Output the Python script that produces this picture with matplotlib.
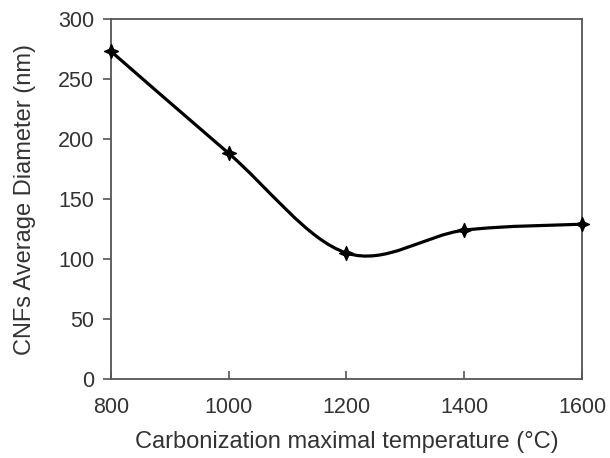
import matplotlib
matplotlib.use("Agg")
from matplotlib import pyplot as plt
from matplotlib.path import Path
from matplotlib.patches import PathPatch

temperature = [800, 1000, 1200, 1400, 1600]
diameter = [273, 188, 105, 124, 129]

x_ticks = [800, 1000, 1200, 1400, 1600]
y_ticks = [0, 50, 100, 150, 200, 250, 300]


def smooth_path(xs, ys):
    # Excel-like smoothed line: cubic Bezier segments with Catmull-Rom controls
    pts = list(zip(xs, ys))
    verts = [pts[0]]
    codes = [Path.MOVETO]
    n = len(pts)
    for i in range(n - 1):
        p0 = pts[i - 1] if i > 0 else pts[i]
        p1 = pts[i]
        p2 = pts[i + 1]
        p3 = pts[i + 2] if i + 2 < n else pts[i + 1]
        c1 = (p1[0] + (p2[0] - p0[0]) / 6, p1[1] + (p2[1] - p0[1]) / 6)
        c2 = (p2[0] - (p3[0] - p1[0]) / 6, p2[1] - (p3[1] - p1[1]) / 6)
        verts += [c1, c2, p2]
        codes += [Path.CURVE4] * 3
    return Path(verts, codes)


plt.rcParams['font.family'] = ['Liberation Sans', 'DejaVu Sans']

fig = plt.figure(figsize=(6.1, 4.58), dpi=100)
ax = fig.add_axes([0.182, 0.1725, 0.772, 0.786])

ax.add_patch(PathPatch(smooth_path(temperature, diameter), fill=False,
                       edgecolor='black', lw=2.3, zorder=3))

star = Path([(0, 1), (0.3, 0.3), (1, 0), (0.3, -0.3), (0, -1),
             (-0.3, -0.3), (-1, 0), (-0.3, 0.3), (0, 1)],
            [Path.MOVETO] + [Path.LINETO] * 7 + [Path.CLOSEPOLY])
ax.plot(temperature, diameter, ls='none', marker=star, ms=10,
        color='black', zorder=4, clip_on=False)

ax.set_xlim(800, 1600)
ax.set_ylim(0, 300)
ax.set_xticks(x_ticks)
ax.set_yticks(y_ticks)

for s in ax.spines.values():
    s.set_color('#555555')
    s.set_linewidth(1.3)

ax.tick_params(axis='x', direction='in', length=6, width=1.2, color='#555555',
               labelsize=15.5, labelcolor='#333333', pad=13)
ax.tick_params(axis='y', direction='out', length=6, width=1.2, color='#555555',
               labelsize=15.5, labelcolor='#333333', pad=6)

ax.set_xlabel('Carbonization maximal temperature (°C)', fontsize=17,
              color='#333333', labelpad=9)
ax.set_ylabel('CNFs Average Diameter (nm)', fontsize=17,
              color='#333333', labelpad=16)

fig.savefig('out.png', dpi=100)
